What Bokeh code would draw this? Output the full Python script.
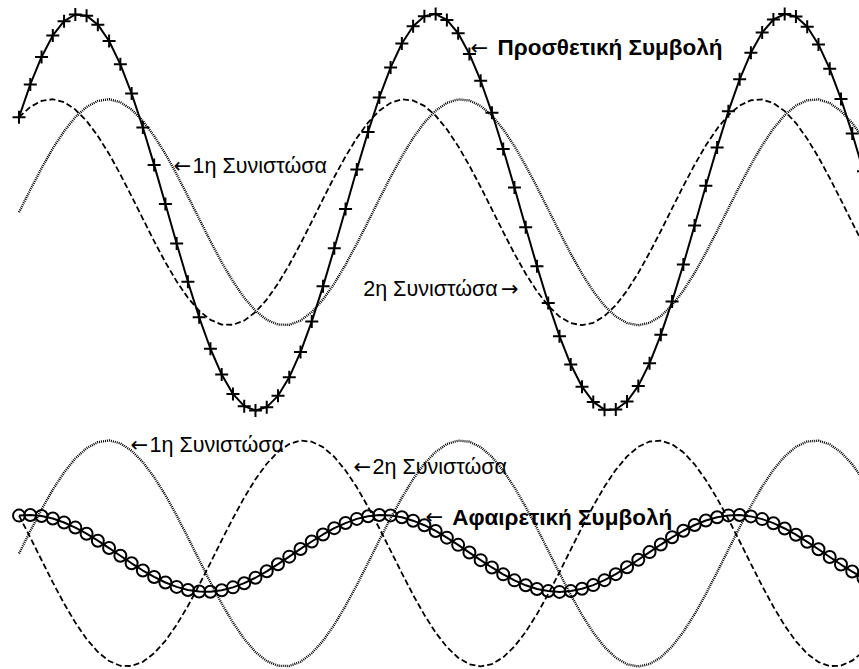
from bokeh.plotting import figure
from bokeh.models import Range1d, Label, ColumnDataSource
from bokeh.embed import file_html
from bokeh.resources import INLINE

# Phase angle samples (radians), step 0.2
theta = [0.0, 0.2, 0.4, 0.6, 0.8, 1.0, 1.2, 1.4, 1.6, 1.8,
         2.0, 2.2, 2.4, 2.6, 2.8, 3.0, 3.2, 3.4, 3.6, 3.8,
         4.0, 4.2, 4.4, 4.6, 4.8, 5.0, 5.2, 5.4, 5.6, 5.8,
         6.0, 6.2, 6.4, 6.6, 6.8, 7.0, 7.2, 7.4, 7.6, 7.8,
         8.0, 8.2, 8.4, 8.6, 8.8, 9.0, 9.2, 9.4, 9.6, 9.8,
         10.0, 10.2, 10.4, 10.6, 10.8, 11.0, 11.2, 11.4, 11.6, 11.8,
         12.0, 12.2, 12.4, 12.6, 12.8, 13.0, 13.2, 13.4, 13.6, 13.8,
         14.0, 14.2, 14.4, 14.6, 14.8, 15.0]

# 1st component (same in both panels)
comp1 = [0.000, 0.199, 0.389, 0.565, 0.717, 0.841, 0.932, 0.985, 1.000, 0.974,
         0.909, 0.808, 0.675, 0.516, 0.335, 0.141, -0.058, -0.256, -0.443, -0.612,
         -0.757, -0.872, -0.952, -0.994, -0.996, -0.959, -0.883, -0.773, -0.631, -0.465,
         -0.279, -0.083, 0.117, 0.312, 0.494, 0.657, 0.794, 0.899, 0.968, 0.999,
         0.989, 0.941, 0.855, 0.734, 0.585, 0.412, 0.223, 0.025, -0.174, -0.367,
         -0.544, -0.700, -0.828, -0.923, -0.981, -1.000, -0.979, -0.919, -0.823, -0.694,
         -0.537, -0.358, -0.166, 0.034, 0.232, 0.420, 0.592, 0.740, 0.859, 0.944,
         0.991, 0.998, 0.966, 0.895, 0.789, 0.650]

# 2nd component, upper panel (small phase lead)
comp2_add = [0.841, 0.932, 0.985, 1.000, 0.974,
             0.909, 0.808, 0.675, 0.516, 0.335, 0.141, -0.058, -0.256, -0.443, -0.612,
             -0.757, -0.872, -0.952, -0.994, -0.996, -0.959, -0.883, -0.773, -0.631, -0.465,
             -0.279, -0.083, 0.117, 0.312, 0.494, 0.657, 0.794, 0.899, 0.968, 0.999,
             0.989, 0.941, 0.855, 0.734, 0.585, 0.412, 0.223, 0.025, -0.174, -0.367,
             -0.544, -0.700, -0.828, -0.923, -0.981, -1.000, -0.979, -0.919, -0.823, -0.694,
             -0.537, -0.358, -0.166, 0.034, 0.232, 0.420, 0.592, 0.740, 0.859, 0.944,
             0.991, 0.998, 0.966, 0.895, 0.789, 0.650, 0.487, 0.303, 0.108, -0.092,
             -0.288]

# 2nd component, lower panel (almost opposite phase)
comp2_sub = [0.335, 0.141, -0.058, -0.256, -0.443, -0.612,
             -0.757, -0.872, -0.952, -0.994, -0.996, -0.959, -0.883, -0.773, -0.631, -0.465,
             -0.279, -0.083, 0.117, 0.312, 0.494, 0.657, 0.794, 0.899, 0.968, 0.999,
             0.989, 0.941, 0.855, 0.734, 0.585, 0.412, 0.223, 0.025, -0.174, -0.367,
             -0.544, -0.700, -0.828, -0.923, -0.981, -1.000, -0.979, -0.919, -0.823, -0.694,
             -0.537, -0.358, -0.166, 0.034, 0.232, 0.420, 0.592, 0.740, 0.859, 0.944,
             0.991, 0.998, 0.966, 0.895, 0.789, 0.650, 0.487, 0.303, 0.108, -0.092,
             -0.288, -0.472, -0.638, -0.778, -0.888, -0.961, -0.997, -0.993, -0.949, -0.868]

labels_text = ["Προσθετική Συμβολή", "1η Συνιστώσα", "2η Συνιστώσα",
               "1η Συνιστώσα", "2η Συνιστώσα", "Αφαιρετική Συμβολή"]
labels_arrow = ["\u2190", "\u2190", "\u2192", "\u2190", "\u2190", "\u2190"]

TOP_OFFSET = 3.02  # vertical placement of the upper panel

sum_add = [a + b for a, b in zip(comp1, comp2_add)]
sum_sub = [a + b for a, b in zip(comp1, comp2_sub)]

src = ColumnDataSource(dict(
    x=theta,
    c1_top=[v + TOP_OFFSET for v in comp1],
    c2_top=[v + TOP_OFFSET for v in comp2_add],
    s_top=[v + TOP_OFFSET for v in sum_add],
    c1_bot=comp1,
    c2_bot=comp2_sub,
    s_bot=sum_sub,
))

p = figure(width=859, height=669, output_backend="svg", toolbar_location=None,
           x_range=Range1d(-0.329, 14.929), y_range=Range1d(-1.027, 4.894),
           x_axis_type=None, y_axis_type=None, min_border=0,
           background_fill_color="white", border_fill_color="white")
p.outline_line_color = None
p.grid.visible = False

DOT = dict(line_color="black", line_width=2.4, line_dash="1 1")
DASH = dict(line_color="black", line_width=1.8, line_dash="6 3")

# upper panel
p.line("x", "c1_top", source=src, **DOT)
p.line("x", "c2_top", source=src, **DASH)
p.line("x", "s_top", source=src, line_color="black", line_width=2)
p.scatter("x", "s_top", source=src, marker="cross", size=13, line_color="black", line_width=2)

# lower panel
p.line("x", "c1_bot", source=src, **DOT)
p.line("x", "c2_bot", source=src, **DASH)
p.line("x", "s_bot", source=src, line_color="black", line_width=2)
p.scatter("x", "s_bot", source=src, marker="circle", size=12, fill_color=None,
          line_color="black", line_width=2)

# annotations: text position, arrow position, baseline (data units)
text_x = [8.499, 3.082, 6.114, 2.318, 6.279, 7.694]
arrow_x = [8.020, 2.744, 8.560, 1.980, 5.941, 7.220]
base_y = [4.478, 3.425, 2.342, 0.956, 0.764, 0.321]
label_bold = [True, False, False, False, False, True]

for txt, arr, tx, ax, by, b in zip(labels_text, labels_arrow, text_x, arrow_x, base_y, label_bold):
    p.add_layout(Label(x=tx, y=by, text=txt, text_font="Liberation Sans",
                       text_font_size="22.5px" if b else "21.5px",
                       text_font_style="bold" if b else "normal",
                       text_color="black", text_baseline="alphabetic",
                       text_align="left"))
    p.add_layout(Label(x=ax, y=by, text=arr, text_font="DejaVu Sans",
                       text_font_size="21px", text_color="black",
                       text_baseline="alphabetic", text_align="left"))

open("out.html", "w").write(file_html(p, INLINE))
